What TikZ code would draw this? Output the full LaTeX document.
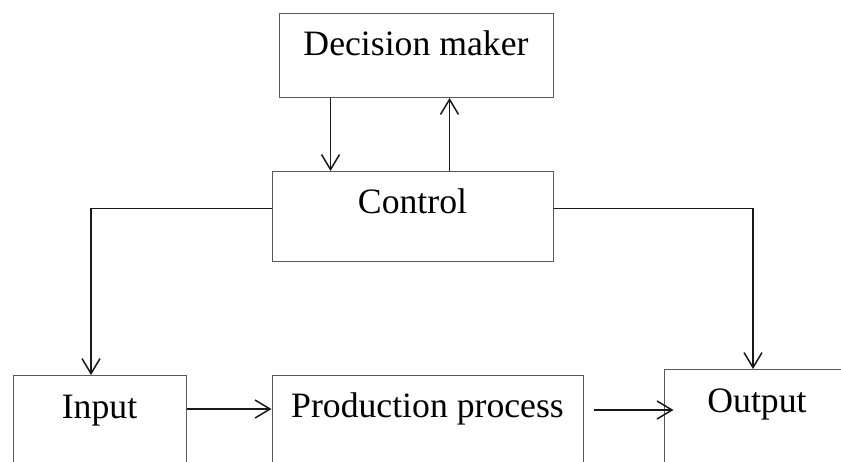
\documentclass[tikz,border=0pt]{standalone}
\usepackage{fontspec}
\setmainfont{Liberation Serif}
\usetikzlibrary{arrows.meta}
\tikzset{
	block/.style={draw=black!65, line width=1pt, rectangle, inner sep=0pt, anchor=north,
		font=\fontsize{35.7}{40}\selectfont},
	flow/.style={->, line width=1.5pt, black!90},
	>={Straight Barb[length=15pt,width=18pt,line width=1.5pt]}
}
\begin{document}
\begin{tikzpicture}[x=1pt,y=-1pt]
\clip (0,0) rectangle (841,461);
\node [block, minimum width=274pt, minimum height=84pt, text height=42pt, text depth=42pt]
	(maker) at (416,13) {Decision maker};
\node [block, minimum width=281pt, minimum height=90pt, text height=42pt, text depth=48pt]
	(control) at (412.5,171) {Control};
\node [block, minimum width=173pt, minimum height=110pt, text height=43pt, text depth=67pt]
	(input) at (99.5,375) {Input};
\node [block, minimum width=311pt, minimum height=110pt, text height=42pt, text depth=68pt]
	(process) at (427.5,375) {Production process};
\node [block, minimum width=186pt, minimum height=116pt, text height=43pt, text depth=73pt]
	(output) at (757,369) {Output};
% decision maker <-> control
\draw [flow] ([xshift=52pt]maker.south west) -- ([xshift=52pt]maker.south west |- control.north);
\draw [flow] ([xshift=-104pt]maker.south east |- control.north) -- ([xshift=-104pt]maker.south east);
% control -> input, output
\draw [flow] ([yshift=8pt]control.west) -| ([xshift=-8.5pt]input.north);
\draw [flow] ([yshift=8pt]control.east) -| ([xshift=-4pt]output.north);
% main flow
\draw [flow] ([yshift=-34pt]input.north east) -- ([yshift=-34pt]input.north east -| process.west);
\draw [flow] ([shift={(10pt,-35pt)}]process.north east) -- ([shift={(10pt,-35pt)}]process.north east -| output.west);
\end{tikzpicture}
\end{document}
